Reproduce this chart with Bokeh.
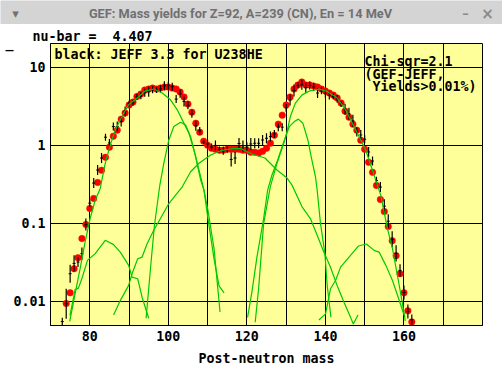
from bokeh.plotting import figure
from bokeh.layouts import column
from bokeh.models import Label, FixedTicker, Grid, LinearAxis, Title
from bokeh.embed import file_html
from bokeh.resources import INLINE

# chart texts
window_title = "GEF: Mass yields for Z=92, A=239 (CN), En = 14 MeV"
nu_bar_text = "nu-bar =\u00a0\u00a04.407"
legend_text = "black: JEFF 3.3 for U238HE"
chi_texts = ["Chi-sqr=2.1", "(GEF-JEFF,", "\u00a0Yields>0.01%)"]
x_title = "Post-neutron mass"
x_labels = [80, 100, 120, 140, 160]
x_grid = [80, 90, 100, 110, 120, 130, 140, 150, 160, 170]
y_grid = [10, 1, 0.1, 0.01]
y_labels = {20: "_\u00a0\u00a0\u00a0\u00a0", 10: "10", 1: "1", 0.1: "0.1", 0.01: "0.01"}

# GEF yields (red dots): log10(yield) per mass
gef_mass = list(range(74, 163))
gef_log = [-2.019,-1.883,-1.576,-1.435,-1.191,-1.012,-0.806,-0.678,-0.473,-0.319,-0.153,-0.024,
           0.117,0.194,0.335,0.412,0.514,0.553,0.624,0.655,0.706,0.719,0.732,0.719,0.732,0.745,
           0.745,0.732,0.719,0.681,0.617,0.527,0.424,0.283,0.168,0.053,0.001,-0.037,-0.050,-0.063,
           -0.063,-0.050,-0.050,-0.050,-0.050,-0.063,-0.063,-0.088,-0.088,-0.097,-0.076,-0.037,0.027,
           0.129,0.271,0.386,0.514,0.617,0.719,0.771,0.809,0.771,0.771,0.758,0.745,0.719,0.694,
           0.668,0.642,0.604,0.540,0.437,0.360,0.271,0.194,0.065,-0.050,-0.217,-0.345,-0.512,-0.691,
           -0.845,-1.037,-1.217,-1.409,-1.640,-1.883,-2.114,-2.255]

# JEFF evaluation (black): log10(yield) and half error bar in decades
jeff_mass = list(range(73, 163))
jeff_log = [-2.251,-2.024,-1.640,-1.508,-1.491,-1.383,-1.012,-0.738,-0.482,-0.315,-0.162,0.104,
            0.031,0.240,0.240,0.304,0.432,0.531,0.544,0.621,0.633,0.672,0.685,0.710,0.706,0.723,
            0.762,0.762,0.749,0.591,0.659,0.560,0.512,0.403,0.249,0.185,0.044,0.018,-0.021,-0.001,
            -0.053,-0.068,-0.053,-0.181,-0.162,0.024,-0.008,-0.021,0.018,0.027,0.027,0.069,0.091,
            0.112,0.146,0.232,0.232,0.479,0.578,0.701,0.765,0.774,0.736,0.765,0.745,0.668,0.697,
            0.659,0.637,0.624,0.595,0.531,0.460,0.403,0.313,0.172,0.133,0.078,-0.085,-0.200,-0.450,
            -0.533,-0.777,-0.969,-1.200,-1.379,-1.597,-1.879,-2.123,-2.226]
jeff_err = [0.050,0.192,0.115,0.103,0.064,0.077,0.077,0.050,0.064,0.064,0.064,0.045,
            0.051,0.051,0.064,0.064,0.064,0.038,0.038,0.038,0.045,0.051,0.064,0.045,0.038,0.045,
            0.058,0.051,0.051,0.051,0.051,0.064,0.051,0.051,0.064,0.051,0.026,0.051,0.045,0.064,
            0.038,0.051,0.038,0.090,0.077,0.070,0.070,0.060,0.077,0.064,0.064,0.064,0.064,
            0.064,0.051,0.051,0.051,0.050,0.070,0.077,0.038,0.064,0.064,0.051,0.051,0.064,0.045,
            0.051,0.051,0.038,0.051,0.040,0.070,0.077,0.077,0.058,0.064,0.051,0.064,0.058,0.050,
            0.064,0.090,0.090,0.103,0.103,0.077,0.090,0.090,0.064]

# GEF fission modes (green lines): mass, log10(yield)
mode_a_mass = [74.96,76.27,77.11,77.98,79.41,81.38,83.94,86.06,87.77,89.9,90.77,92.2,93.32,95.01]
mode_a_log = [-2.174,-1.841,-1.824,-1.704,-1.469,-1.383,-1.213,-1.268,-1.363,-1.533,-1.683,-1.704,-1.94,-2.209]
mode_b_mass = [74.9,76.27,77.54,78.82,80.1,81.38,82.66,83.94,85.22,86.5,88.21,89.9,92.05,94.17,96.29,98.44,
               100.56,102.28,103.96,105.24,106.52,107.8,109.08,110.1,111.64,113.17]
mode_b_log = [-2.247,-1.895,-1.574,-1.233,-0.934,-0.7,-0.55,-0.229,0.005,0.197,0.368,0.518,0.604,0.697,0.719,0.668,
              0.582,0.454,0.284,0.156,-0.059,-0.315,-0.572,-0.832,-1.319,-2.128]
mode_c_mass = [94.35,95.45,96.47,97.83,98.85,100.13,101.41,103.12,104.4,105.68,106.96,108.24,109.08,110.1,111.64,112.92,114.2]
mode_c_log = [-2.209,-1.576,-1.021,-0.51,-0.229,0.069,0.24,0.296,0.26,0.111,-0.146,-0.444,-0.572,-0.935,-1.449,-1.795,-1.884]
mode_d_mass = [86.06,87.77,89.9,90.77,92.2,93.32,94.6,96.29,98.0,100.13,103.55,105.68,107.8,110.79,113.35,116.42,118.47,
               121.28,124.6,127.67,130.23,131.5,134.05,136.18,137.9,139.6,141.3,143.0,144.73,146.4,147.1,148.31]
mode_d_log = [-2.166,-1.983,-1.789,-1.64,-1.448,-1.427,-1.256,-1.085,-0.935,-0.743,-0.529,-0.337,-0.229,-0.123,-0.068,-0.04,-0.04,
              -0.11,-0.162,-0.315,-0.418,-0.508,-0.785,-0.935,-1.149,-1.363,-1.556,-1.792,-2.005,-2.197,-2.283,-2.166]
mode_e_mass = [122.12,122.99,124.27,125.96,127.67,129.39,130.23,131.07,132.35,134.07,136.19,138.34,140.46,143.02,145.14,
               146.85,148.57,150.26,151.97,153.5,154.09,155.8,157.08,158.8,160.08,160.33]
mode_e_log = [-2.259,-1.832,-1.0,-0.531,-0.229,0.027,0.176,0.368,0.539,0.645,0.7,0.719,0.689,0.604,0.454,
              0.283,0.112,-0.059,-0.315,-0.55,-0.636,-1.063,-1.319,-1.79,-2.155,-2.241]
mode_f_mass = [120.18,121.28,122.56,124.27,125.29,126.39,127.85,129.13,130.82,132.1,133.12,134.25,135.53,136.37,137.47,
               137.9,138.75,139.87,140.46,141.41]
mode_f_log = [-2.196,-1.874,-1.427,-0.935,-0.572,-0.379,-0.187,0.005,0.24,0.304,0.335,0.283,0.069,-0.145,-0.401,
              -0.572,-0.998,-1.384,-1.79,-2.196]
mode_g_mass = [138.34,140.03,141.3,142.58,143.86,146.01,148.39,150.44,152.4,153.68,155.38,157.08,158.8,160.08]
mode_g_log = [-2.23,-2.153,-1.832,-1.726,-1.555,-1.427,-1.286,-1.26,-1.341,-1.363,-1.533,-1.726,-1.981,-2.174]
modes = [(mode_a_mass, mode_a_log), (mode_b_mass, mode_b_log), (mode_c_mass, mode_c_log), (mode_d_mass, mode_d_log),
         (mode_e_mass, mode_e_log), (mode_f_mass, mode_f_log), (mode_g_mass, mode_g_log)]

GREEN = "#00c800"
MONO = "DejaVu Sans Mono"
SIZE = "13.3px"

# Window title bar: its own strip above the plot
bar = figure(width=502, height=24, x_range=(0, 502), y_range=(0, 24), x_axis_type=None, y_axis_type=None,
             output_backend="svg", toolbar_location=None, min_border=0, margin=0, frame_align=False,
             background_fill_color="#d4d4d4", border_fill_color="#d4d4d4", outline_line_color=None)
bar.grid.visible = False

def bar_txt(s, px, font, size, style, color):
    bar.add_layout(Label(x=px, y=11, x_units="screen", y_units="screen", text=s, text_font=font, text_font_size=size,
                         text_font_style=style, text_color=color, text_align="center", text_baseline="middle"))

bar_txt(window_title, 240, "Roboto", "12.8px", "bold", "#707070")
bar_txt("▾", 15, "DejaVu Sans", "13px", "normal", "#707070")
bar_txt("–", 465, "DejaVu Sans", "13px", "bold", "#8a8a8a")
bar_txt("×", 487, "DejaVu Sans", "15px", "bold", "#8a8a8a")

p = figure(width=502, height=351, x_range=(70, 180), y_range=(0.005, 20), y_axis_type="log",
           x_axis_type=None, output_backend="svg", toolbar_location=None, margin=0, frame_align=False,
           min_border_left=50, min_border_right=20, min_border_top=19, min_border_bottom=50,
           background_fill_color="#ffff99", border_fill_color="white",
           outline_line_color="black", outline_line_width=1)
p.title = Title(text=nu_bar_text, align="left", offset=-18, standoff=0, text_font=MONO,
                text_font_style="bold", text_font_size=SIZE, text_color="black")

xaxis = LinearAxis(ticker=FixedTicker(ticks=x_labels))
p.add_layout(xaxis, "below")
xaxis.axis_label = x_title
for ax in (xaxis, p.yaxis[0]):
    ax.axis_line_color = "black"
    ax.major_tick_line_color = None
    ax.minor_tick_line_color = None
    ax.major_tick_out = 0
    ax.major_tick_in = 0
    ax.major_label_text_font = MONO
    ax.major_label_text_font_style = "bold"
    ax.major_label_text_font_size = SIZE
    ax.major_label_text_color = "black"
    ax.major_label_standoff = 5
xaxis.axis_label_text_font = MONO
xaxis.axis_label_text_font_style = "bold"
xaxis.axis_label_text_font_size = SIZE
xaxis.axis_label_text_color = "black"
xaxis.axis_label_standoff = 7
p.yaxis[0].ticker = FixedTicker(ticks=list(y_labels))
p.yaxis[0].major_label_overrides = y_labels

p.grid.visible = False
p.add_layout(Grid(dimension=0, ticker=FixedTicker(ticks=x_grid), grid_line_color="black", grid_line_width=1, level="underlay"))
p.add_layout(Grid(dimension=1, ticker=FixedTicker(ticks=y_grid), grid_line_color="black", grid_line_width=1, level="underlay"))

# Red GEF dots
p.scatter(gef_mass, [10 ** v for v in gef_log], marker="circle", size=6.5, fill_color="#ff0000", line_color="#ff0000", line_width=0.5)

# Black JEFF error bars
jeff_y = [10 ** v for v in jeff_log]
jeff_lo = [10 ** (v - e) for v, e in zip(jeff_log, jeff_err)]
jeff_hi = [10 ** (v + e) for v, e in zip(jeff_log, jeff_err)]
p.segment(jeff_mass, jeff_lo, jeff_mass, jeff_hi, line_color="black", line_width=1.2)
p.scatter(jeff_mass, jeff_y, marker="dash", size=3, line_color="black", line_width=1)

# Green modes
for mx, my in modes:
    p.line(mx, [10 ** v for v in my], line_color=GREEN, line_width=1.2)

# Texts inside the frame (x from its left edge, y from its bottom edge)
def txt(s, px, py):
    p.add_layout(Label(x=px - 50, y=325 - py, x_units="screen", y_units="screen", text=s, text_font=MONO,
                       text_font_size=SIZE, text_font_style="bold", text_color="black", text_baseline="middle"))

txt(legend_text, 54, 54)
for s, py in zip(chi_texts, [61, 74, 86]):
    txt(s, 364, py)

page = column(bar, p, spacing=0, margin=0)
open("out.html", "w").write(file_html(page, INLINE))
